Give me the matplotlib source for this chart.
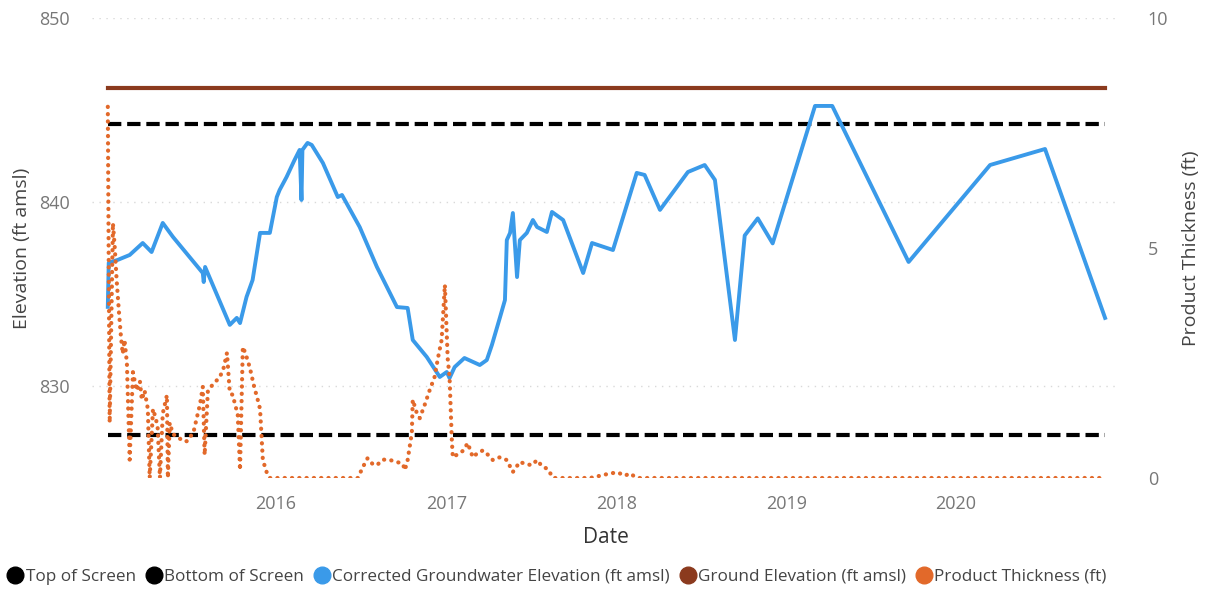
import pandas as pd
import matplotlib
matplotlib.use("Agg")
import matplotlib.pyplot as plt
import matplotlib.dates as mdates
from matplotlib.lines import Line2D

plt.rcParams['font.family'] = ['Open Sans', 'DejaVu Sans']

# well construction / survey (ft amsl)
top_of_screen = 844.25
bottom_of_screen = 827.35
ground_elevation = 846.2

# corrected groundwater elevation (ft amsl)
gw_dates = ['2015-01-05', '2015-01-07', '2015-01-26', '2015-02-21', '2015-03-21', '2015-04-09',
            '2015-05-03', '2015-05-25', '2015-07-28', '2015-07-30', '2015-08-02', '2015-09-24',
            '2015-10-09', '2015-10-16', '2015-10-30', '2015-11-12', '2015-11-28', '2015-12-19',
            '2016-01-03', '2016-01-09', '2016-01-24', '2016-02-10', '2016-02-21', '2016-02-25',
            '2016-02-27', '2016-03-09', '2016-03-18', '2016-04-11', '2016-05-13', '2016-05-22',
            '2016-06-29', '2016-08-05', '2016-09-17', '2016-10-10', '2016-10-21', '2016-11-20',
            '2016-12-18', '2017-01-02', '2017-01-08', '2017-01-19', '2017-02-09', '2017-03-14',
            '2017-03-29', '2017-04-09', '2017-04-26', '2017-05-07', '2017-05-11', '2017-05-18',
            '2017-05-24', '2017-06-02', '2017-06-08', '2017-06-23', '2017-07-06', '2017-07-15',
            '2017-08-05', '2017-08-16', '2017-09-09', '2017-10-22', '2017-11-10', '2017-12-25',
            '2018-02-14', '2018-03-03', '2018-04-05', '2018-06-04', '2018-07-10', '2018-08-01',
            '2018-09-13', '2018-10-04', '2018-11-01', '2018-12-03', '2019-03-04', '2019-04-10',
            '2019-09-21', '2020-03-14', '2020-07-10', '2020-11-16']
gw_elev = [834.3, 836.7, 836.85, 837.12, 837.77, 837.28,
           838.86, 838.10, 836.14, 835.65, 836.47, 833.32,
           833.70, 833.42, 834.84, 835.76, 838.32, 838.32,
           840.27, 840.65, 841.36, 842.28, 842.83, 840.11,
           842.83, 843.21, 843.10, 842.12, 840.27, 840.38,
           838.64, 836.47, 834.29, 834.24, 832.50, 831.58,
           830.49, 830.76, 830.43, 831.03, 831.52, 831.14,
           831.41, 832.23, 833.70, 834.67, 837.93, 838.32,
           839.40, 835.92, 837.93, 838.32, 839.02, 838.64,
           838.37, 839.46, 839.02, 836.14, 837.77, 837.39,
           841.58, 841.47, 839.57, 841.63, 842.01, 841.20,
           832.50, 838.18, 839.11, 837.75, 845.22, 845.22,
           836.74, 842.01, 842.88, 833.70]

# measured product thickness (ft)
pt_dates = ['2015-01-05', '2015-01-09', '2015-01-16', '2015-01-20', '2015-01-24', '2015-01-29',
            '2015-02-02', '2015-02-06', '2015-02-10', '2015-02-15', '2015-02-21', '2015-02-28',
            '2015-03-08', '2015-03-15', '2015-03-19', '2015-03-25', '2015-04-01', '2015-04-05',
            '2015-04-12', '2015-04-18', '2015-04-22', '2015-04-27', '2015-05-03', '2015-05-12',
            '2015-05-14', '2015-05-18', '2015-05-25', '2015-06-04', '2015-06-15', '2015-06-24',
            '2015-06-30', '2015-07-07', '2015-07-15', '2015-07-22', '2015-07-28', '2015-08-01',
            '2015-08-08', '2015-08-16', '2015-08-25', '2015-09-03', '2015-09-11', '2015-09-18',
            '2015-09-24', '2015-10-01', '2015-10-05', '2015-10-11', '2015-10-16', '2015-10-22',
            '2015-10-28', '2015-11-06', '2015-11-15', '2015-11-23', '2015-11-28', '2015-12-04',
            '2015-12-13', '2015-12-19', '2016-02-21', '2016-04-26', '2016-06-25', '2016-07-06',
            '2016-07-16', '2016-07-27', '2016-08-05', '2016-08-18', '2016-09-02', '2016-09-17',
            '2016-09-30', '2016-10-04', '2016-10-10', '2016-10-19', '2016-10-21', '2016-10-30',
            '2016-11-05', '2016-11-16', '2016-11-26', '2016-12-07', '2016-12-14', '2016-12-22',
            '2016-12-29', '2017-01-04', '2017-01-08', '2017-01-13', '2017-01-15', '2017-01-23',
            '2017-01-30', '2017-02-07', '2017-02-16', '2017-02-27', '2017-03-10', '2017-03-21',
            '2017-04-01', '2017-04-11', '2017-04-26', '2017-05-11', '2017-05-24', '2017-06-08',
            '2017-06-21', '2017-07-04', '2017-07-15', '2017-07-26', '2017-08-06', '2017-08-19',
            '2017-09-03', '2017-10-05', '2017-11-06', '2017-11-28', '2017-12-19', '2018-01-04',
            '2018-01-20', '2018-01-30', '2018-02-10', '2018-02-21', '2018-04-05', '2018-06-04',
            '2018-08-01', '2018-10-04', '2018-12-03', '2019-03-04', '2019-05-25', '2019-09-21',
            '2020-03-14', '2020-07-10', '2020-11-16']
pt_thick = [8.07, 1.20, 5.54, 5.0, 4.3, 3.6,
            3.1, 2.7, 3.0, 2.5, 0.4, 2.3,
            1.9, 2.1, 1.7, 1.9, 1.5, 0.0,
            1.5, 1.3, 1.1, 0.0, 1.4, 1.8,
            0.0, 1.2, 0.95, 0.9, 0.8, 0.8,
            0.9, 0.95, 1.3, 1.6, 1.98, 0.5,
            1.9, 2.0, 2.1, 2.2, 2.4, 2.72,
            1.85, 1.8, 1.6, 1.4, 0.17, 2.85,
            2.7, 2.4, 2.0, 1.7, 1.5, 0.39,
            0.1, 0.0, 0.0, 0.0, 0.0, 0.24,
            0.43, 0.3, 0.28, 0.4, 0.39, 0.35,
            0.3, 0.17, 0.39, 0.98, 1.7, 1.4,
            1.3, 1.6, 1.9, 2.2, 2.6, 3.0,
            4.2, 2.6, 2.2, 0.8, 0.45, 0.5,
            0.54, 0.6, 0.76, 0.45, 0.55, 0.6,
            0.5, 0.39, 0.45, 0.39, 0.13, 0.35,
            0.3, 0.28, 0.39, 0.25, 0.2, 0.0,
            0.0, 0.0, 0.0, 0.05, 0.1, 0.12,
            0.05, 0.1, 0.03, 0.0, 0.0, 0.0,
            0.0, 0.0, 0.0, 0.0, 0.0, 0.0,
            0.0, 0.0, 0.0]

year_ticks = ['2016-01-01', '2017-01-01', '2018-01-01', '2019-01-01', '2020-01-01']

gw_x = pd.to_datetime(gw_dates)
pt_x = pd.to_datetime(pt_dates)

c_blue = '#3a9ae9'
c_brown = '#8b3a1e'
c_orange = '#e2692a'
c_tick = '#777777'
c_label = '#444444'

fig = plt.figure(figsize=(12.07, 5.92), dpi=100)
fig.patch.set_facecolor('white')
ax = fig.add_axes([0.0762, 0.1926, 0.8517, 0.7770])
ax2 = ax.twinx()

n = len(gw_x)
ax.plot(gw_x, [top_of_screen] * n, color='black', lw=3.0, dashes=(3.2, 1.4), label='Top of Screen')
ax.plot(gw_x, [bottom_of_screen] * n, color='black', lw=3.0, dashes=(3.2, 1.4), label='Bottom of Screen')
ax.plot(gw_x, gw_elev, color=c_blue, lw=2.8, label='Corrected Groundwater Elevation (ft amsl)')
ax.plot(gw_x, [ground_elevation] * n, color=c_brown, lw=3.0, label='Ground Elevation (ft amsl)')
ax2.plot(pt_x, pt_thick, color=c_orange, lw=3.0, linestyle=(0, (0.05, 1.7)),
         dash_capstyle='round', label='Product Thickness (ft)')

ax.set_ylim(825, 850)
ax2.set_ylim(0, 10)
ax.set_xlim(pd.Timestamp('2014-12-02'), pd.Timestamp('2020-12-18'))

ax.set_yticks([830, 840, 850])
ax2.set_yticks([0, 5, 10])
ax.set_xticks(pd.to_datetime(year_ticks))
ax.xaxis.set_major_formatter(mdates.DateFormatter('%Y'))

ax.yaxis.grid(True, color='#d9d9d9', linestyle=(0, (1, 4)), lw=1.0)
for a in (ax, ax2):
    for s in a.spines.values():
        s.set_visible(False)
    a.tick_params(length=0, labelsize=13, labelcolor=c_tick)
ax.tick_params(axis='y', pad=16)
ax.tick_params(axis='x', pad=12)
ax2.tick_params(axis='y', pad=20)

ax.set_xlabel('Date', fontsize=15, color='#333333', labelpad=10)
ax.set_ylabel('Elevation (ft amsl)', fontsize=14, color=c_label, labelpad=6)
ax2.set_ylabel('Product Thickness (ft)', fontsize=14, color=c_label, labelpad=10)

handles = [Line2D([], [], marker='o', ls='', ms=12, color=c) for c in
           ['black', 'black', c_blue, c_brown, c_orange]]
labels = ['Top of Screen', 'Bottom of Screen', 'Corrected Groundwater Elevation (ft amsl)',
          'Ground Elevation (ft amsl)', 'Product Thickness (ft)']
fig.legend(handles, labels, loc='center left', bbox_to_anchor=(-0.007, 0.026), ncol=5,
           frameon=False, fontsize=12.3, handletextpad=0.1, columnspacing=0.55,
           handlelength=1.0, labelcolor='#444444')

fig.savefig('out.png', dpi=100, facecolor='white')
